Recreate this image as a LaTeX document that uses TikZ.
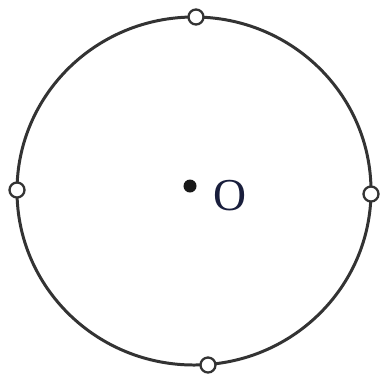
\documentclass[tikz,border=0pt]{standalone}
\usepackage{fontspec}
\setmainfont{Liberation Serif}
\usetikzlibrary{positioning}
\definecolor{inkblue}{RGB}{25,30,60}

\begin{document}
\begin{tikzpicture}[x=0.01cm,y=-0.01cm,
  rim/.style={draw=black!80,line width=0.85pt},
  hole/.style={draw=black!80,circle,fill=white,line width=0.65pt,inner sep=0pt,minimum size=1.5mm},
  centre/.style={circle,fill=black!90,inner sep=0pt,minimum size=1.3mm}]
  \useasboundingbox (0,0) rectangle (382,381);
  \coordinate (c) at (194,191);
  \draw[rim] (c) ellipse [x radius=177,y radius=174];
  % four points on the rim
  \node[hole] (top) at (196,17) {};
  \node[hole] (left) at (17,190) {};
  \node[hole] (right) at (371,194) {};
  \node[hole] (bottom) at (208,365) {};
  \node[centre] (dot) at (190,186) {};
  \node[right=1.6mm of dot,yshift=-1mm,inner sep=0pt,font=\fontsize{13}{15}\selectfont,text=inkblue] (olab) {O};
\end{tikzpicture}
\end{document}
